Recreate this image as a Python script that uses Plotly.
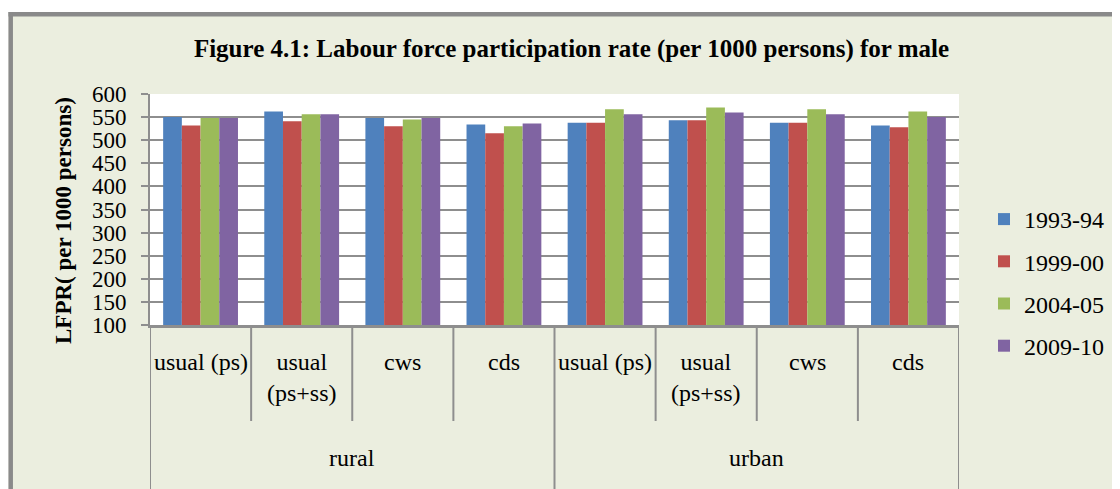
import plotly.graph_objects as go

# ---- data ----
groups = ["rural", "urban"]
sub_labels = ["usual (ps)", "usual<br>(ps+ss)", "cws", "cds"]
cat_labels = [s for g in groups for s in sub_labels]
cat_groups = [g for g in groups for s in sub_labels]

series_names = ["1993-94", "1999-00", "2004-05", "2009-10"]
v1993_94 = [550, 562, 548, 534, 538, 543, 538, 532]
v1999_00 = [532, 541, 530, 515, 538, 543, 538, 528]
v2004_05 = [548, 556, 545, 530, 567, 571, 567, 562]
v2009_10 = [548, 556, 548, 536, 556, 560, 556, 550]
series_values = [v1993_94, v1999_00, v2004_05, v2009_10]

y_ticks = list(range(100, 601, 50))
title_text = "Figure 4.1: Labour force participation rate (per 1000 persons) for male"
y_title = "LFPR( per 1000 persons)"

# ---- style ----
colors = ["#4F81BD", "#C0504D", "#9BBB59", "#8064A2"]
BG = "#EBEEDF"
GRID = "#8E8E8E"
FONT = "Liberation Serif"
W, H = 1120, 489
OFF = 8  # page body margin offset
# plot area in screen coordinates
PX0, PX1, PY0, PY1 = 150, 959, 94, 325
PW, PH = PX1 - PX0, PY1 - PY0
L, T = PX0 - OFF, PY0 - OFF
R, B = W - L - PW, H - T - PH


def px_x(px):
    return (px - PX0) / PW


def px_y(py):
    return (PY1 - py) / PH


xs = list(range(len(cat_labels)))

fig = go.Figure()
for name, vals, col in zip(series_names, series_values, colors):
    fig.add_trace(go.Bar(
        x=xs, y=vals, name=name, marker=dict(color=col, line=dict(width=0)),
        legendgroup=name,
    ))

shapes = []
# outer chart frame (white outside, gray border)
shapes.append(dict(type="rect", xref="paper", yref="paper", x0=px_x(-20), x1=px_x(W + 30),
                   y0=px_y(12), y1=px_y(-20), fillcolor="white", line=dict(width=0), layer="above"))
shapes.append(dict(type="rect", xref="paper", yref="paper", x0=px_x(-20), x1=px_x(8.5),
                   y0=px_y(H + 20), y1=px_y(-20), fillcolor="white", line=dict(width=0), layer="above"))
shapes.append(dict(type="line", xref="paper", yref="paper", x0=px_x(8.5), x1=px_x(W + 30),
                   y0=px_y(14.2), y1=px_y(14.2), line=dict(color="#8A8A8A", width=4.5)))
shapes.append(dict(type="line", xref="paper", yref="paper", x0=px_x(10.7), x1=px_x(10.7),
                   y0=px_y(12), y1=px_y(H + 20), line=dict(color="#8A8A8A", width=4.5)))

# category dividers below the axis
n = len(cat_labels)
for i in range(n + 1):
    xb = i - 0.5
    is_group = (i % len(sub_labels) == 0)
    shapes.append(dict(type="line", xref="x", yref="paper", x0=xb, x1=xb,
                       y0=0, y1=px_y(H + 10) if is_group else px_y(421),
                       line=dict(color=GRID, width=2)))

annotations = []
for i, lab in enumerate(cat_labels):
    annotations.append(dict(x=i, y=px_y(347), xref="x", yref="paper", text=lab,
                            showarrow=False, yanchor="top", xanchor="center",
                            font=dict(family=FONT, size=24, color="black")))
for gi, g in enumerate(groups):
    center = gi * len(sub_labels) + (len(sub_labels) - 1) / 2
    annotations.append(dict(x=center, y=px_y(458), xref="x", yref="paper", text=g,
                            showarrow=False, yanchor="middle", xanchor="center",
                            font=dict(family=FONT, size=24, color="black")))
annotations.append(dict(x=px_x(63), y=px_y(221), xref="paper", yref="paper",
                        text="<b>" + y_title + "</b>", textangle=-90, showarrow=False,
                        xanchor="center", yanchor="middle",
                        font=dict(family=FONT, size=23, color="black")))

fig.update_layout(
    width=W, height=H,
    margin=dict(l=L, r=R, t=T, b=B, pad=0),
    paper_bgcolor=BG, plot_bgcolor="white",
    barmode="group", bargap=0.26, bargroupgap=0,
    title=dict(text="<b>" + title_text + "</b>", x=(571.5 - OFF) / W, xanchor="center",
               y=1 - (48 - OFF) / H, yanchor="middle", xref="container", yref="container",
               font=dict(family=FONT, size=25, color="black")),
    font=dict(family=FONT, color="black"),
    xaxis=dict(range=[-0.5, n - 0.5], showticklabels=False, showgrid=False, zeroline=False,
               showline=True, linecolor=GRID, linewidth=2.5, ticks=""),
    yaxis=dict(range=[100, 600], tickvals=y_ticks, showgrid=True, gridcolor=GRID, gridwidth=1.8,
               zeroline=False, showline=True, linecolor=GRID, linewidth=2, ticks="outside",
               ticklen=7, tickcolor=GRID, tickwidth=1.5, ticklabelstandoff=10,
               tickfont=dict(family=FONT, size=23, color="black")),
    legend=dict(x=px_x(984), y=px_y(282.5), xanchor="left", yanchor="middle",
                bgcolor="rgba(0,0,0,0)", font=dict(family=FONT, size=24, color="black"),
                tracegroupgap=8, traceorder="grouped"),
    shapes=shapes, annotations=annotations,
)

fig.write_html("out.html")
